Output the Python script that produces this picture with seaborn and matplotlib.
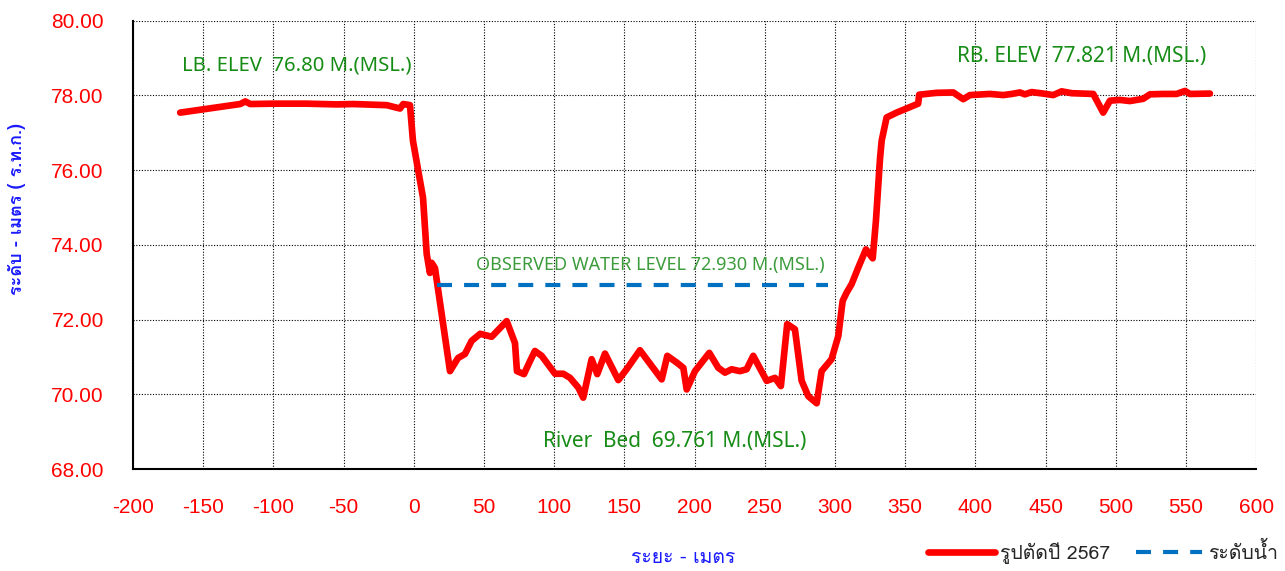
import numpy as np
import pandas as pd
import matplotlib
matplotlib.use("Agg")
import matplotlib.pyplot as plt
import seaborn as sns
from matplotlib import font_manager, ft2font

# --- data ---
dist = [-166.4, -123.6, -120.0, -116.5, -100.1, -76.3, -54.9, -43.1, -19.3, -9.8, -7.5, -2.7,
        -0.6, 6.6, 9.2, 11.5, 12.7, 15.1, 25.8, 31.5, 36.5, 41.2, 47.3, 55.5, 66.2, 72.1,
        73.5, 78.5, 82.8, 86.3, 91.1, 100.6, 106.5, 111.3, 117.2, 120.7, 126.7, 130.7, 136.2,
        145.7, 151.6, 161.1, 176.6, 180.6, 187.3, 192.0, 194.4, 200.3, 210.5, 216.9, 221.7,
        226.4, 232.3, 237.1, 241.8, 251.4, 257.3, 261.5, 266.0, 271.5, 276.3, 281.0, 287.0,
        290.5, 297.6, 302.4, 305.5, 308.3, 311.9, 316.6, 322.1, 326.9, 329.2, 332.1, 333.3,
        336.8, 343.9, 359.3, 360.0, 372.4, 384.3, 391.4, 396.2, 410.4, 419.9, 425.9, 431.8,
        435.3, 440.1, 448.4, 455.5, 461.5, 468.6, 484.0, 491.1, 495.9, 503.0, 510.1, 519.6,
        524.4, 533.8, 543.4, 549.3, 552.9, 567.1]
elev = [77.54, 77.77, 77.84, 77.77, 77.78, 77.78, 77.76, 77.77, 77.74, 77.65, 77.77, 77.74,
        76.79, 75.26, 73.76, 73.25, 73.52, 73.38, 70.62, 70.97, 71.08, 71.43, 71.62, 71.54,
        71.96, 71.37, 70.62, 70.54, 70.89, 71.16, 71.03, 70.55, 70.55, 70.44, 70.18, 69.91,
        70.94, 70.54, 71.09, 70.38, 70.67, 71.18, 70.40, 71.03, 70.85, 70.71, 70.13, 70.62,
        71.11, 70.71, 70.58, 70.67, 70.62, 70.67, 71.03, 70.36, 70.44, 70.22, 71.88, 71.74,
        70.36, 69.95, 69.76, 70.62, 70.94, 71.56, 72.50, 72.72, 72.95, 73.39, 73.88, 73.64,
        74.64, 76.30, 76.79, 77.41, 77.54, 77.78, 78.02, 78.07, 78.08, 77.90, 78.01, 78.04,
        78.01, 78.04, 78.08, 78.03, 78.09, 78.05, 78.01, 78.11, 78.06, 78.04, 77.54, 77.86,
        77.88, 77.85, 77.91, 78.03, 78.04, 78.04, 78.12, 78.04, 78.05]

wl_dist = [16.5, 295.0]
wl_elev = [72.93, 72.93]

x_ticks = list(range(-200, 601, 50))
y_ticks = [68, 70, 72, 74, 76, 78, 80]

section_label = "รูปตัดปี 2567"
water_label = "ระดับน้ำ"
x_title = "ระยะ - เมตร"
y_title = "ระดับ - เมตร ( ร.ท.ก.)"


def thai_font():
    # pick any installed family that actually has Thai glyphs
    for f in font_manager.fontManager.ttflist:
        try:
            ft = ft2font.FT2Font(f.fname)
            if ft.get_char_index(0x0E23) and ft.get_char_index(0x0E14):
                return f.name
        except Exception:
            continue
    return None


sns.set_style("white")
thai = thai_font()
families = [thai, "DejaVu Sans"] if thai else ["DejaVu Sans"]
plt.rcParams["font.family"] = families

section = pd.DataFrame({"dist": dist, "elev": elev})
water = pd.DataFrame({"dist": wl_dist, "elev": wl_elev})

fig = plt.figure(figsize=(12.85, 5.71), dpi=100)
ax = fig.add_axes([0.1035, 0.1786, 0.874, 0.7851])

sns.lineplot(data=section, x="dist", y="elev", ax=ax, color="#ff0000", lw=4.8,
             sort=False, estimator=None, label=section_label, solid_joinstyle="round")
sns.lineplot(data=water, x="dist", y="elev", ax=ax, color="#0070c0", lw=3,
             sort=False, estimator=None, label=water_label, dashes=False)
ax.lines[-1].set_dashes([3.6, 2.9])

ax.set_xlim(-200, 600)
ax.set_ylim(68, 80)
ax.set_xticks(x_ticks)
ax.set_yticks(y_ticks)
ax.set_xticklabels([str(t) for t in x_ticks], family="Liberation Sans", fontsize=15, color="red")
ax.set_yticklabels([f"{t:.2f}" for t in y_ticks], family="Liberation Sans", fontsize=15, color="red")
ax.tick_params(axis="both", direction="out", length=6, width=1.2, color="black", pad=15)

ax.grid(True, color="black", linestyle=(0, (1, 1.5)), linewidth=0.8)
for side in ["top", "right"]:
    ax.spines[side].set_visible(False)
for side in ["left", "bottom"]:
    ax.spines[side].set_color("black")
    ax.spines[side].set_linewidth(1.5)

ax.set_xlabel(x_title, color="#1a1aff", fontsize=14)
ax.set_ylabel(y_title, color="#1a1aff", fontsize=13, fontweight="bold")
ax.xaxis.set_label_coords(0.49, -0.178)
ax.yaxis.set_label_coords(-0.095, 0.58)

green = "#168c16"
ax.text(-165.4, 78.8, "LB. ELEV  76.80 M.(MSL.)", color=green, fontsize=14.6,
        family="Noto Sans", va="center")
ax.text(387, 79.04, "RB. ELEV  77.821 M.(MSL.)", color=green, fontsize=15,
        family="Noto Sans", va="center")
ax.text(44.3, 73.46, "OBSERVED WATER LEVEL 72.930 M.(MSL.)", color="#3c9c3c", fontsize=13,
        family="Noto Sans", va="center")
ax.text(92, 68.75, "River  Bed  69.761 M.(MSL.)", color=green, fontsize=15,
        family="Noto Sans", va="center")

ax.legend_.remove()
handles, labels = ax.get_legend_handles_labels()
fig.legend(handles, labels, loc="lower right", bbox_to_anchor=(1.008, -0.018), ncol=2,
           frameon=False, fontsize=14, handlelength=3.4, columnspacing=1.3, handletextpad=0.3)

fig.savefig("out.png", dpi=100)
